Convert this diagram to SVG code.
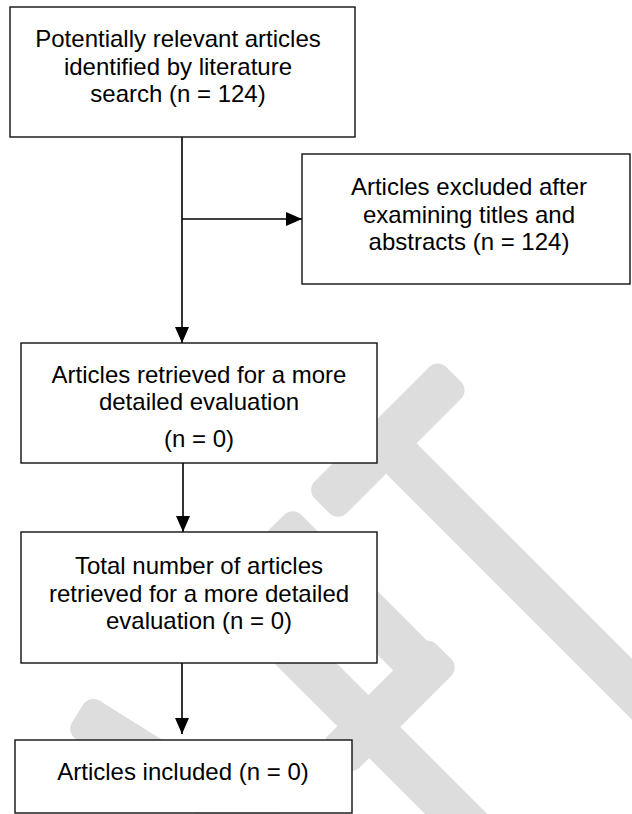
<svg xmlns="http://www.w3.org/2000/svg" width="632" height="814" viewBox="0 0 632 814">
  <defs>
    <style>
      .box { fill: #ffffff; stroke: #111111; stroke-width: 1.4; }
      .lbl { font-family: "Liberation Sans", Arial, sans-serif; font-size: 24px; fill: #000000; text-anchor: middle; }
      .conn { fill: none; stroke: #000000; stroke-width: 1.6; }
      .wm { fill: #dddddd; }
    </style>
    <marker id="arrow" markerUnits="userSpaceOnUse" viewBox="0 0 16 14" markerWidth="16" markerHeight="14" refX="16" refY="7" orient="auto">
      <path d="M0,0 L16,7 L0,14 Z" fill="#000000"/>
    </marker>
  </defs>
  <rect width="632" height="814" fill="#ffffff"/>

  <g id="watermark">
    <g transform="rotate(-45)">
      <rect class="wm" x="-130" y="563" width="186" height="45" rx="12"/>
      <rect class="wm" x="-62" y="585" width="43" height="520"/>
      <rect class="wm" x="-196" y="565" width="45" height="225" rx="12"/>
      <rect class="wm" x="-300" y="752" width="153" height="45" rx="12"/>
      <rect class="wm" x="-275" y="600" width="44" height="520"/>
    </g>
    <rect class="wm" transform="translate(77.6,713.5) rotate(32)" x="0" y="-22.5" width="320" height="45" rx="12"/>
  </g>

  <g id="connectors">
    <path class="conn" d="M182,137 V343" marker-end="url(#arrow)"/>
    <path class="conn" d="M182,219 H302" marker-end="url(#arrow)"/>
    <path class="conn" d="M183,463 V532" marker-end="url(#arrow)"/>
    <path class="conn" d="M182,663 V734" marker-end="url(#arrow)"/>
  </g>

  <g id="n1">
    <rect class="box" x="10" y="7" width="345" height="130"/>
    <text class="lbl" x="178" y="47">Potentially relevant articles</text>
    <text class="lbl" x="178" y="74.5">identified by literature</text>
    <text class="lbl" x="178" y="102">search (n = 124)</text>
  </g>

  <g id="n2">
    <rect class="box" x="302" y="154" width="328" height="130"/>
    <text class="lbl" x="469" y="195">Articles excluded after</text>
    <text class="lbl" x="469" y="222.5">examining titles and</text>
    <text class="lbl" x="469" y="250">abstracts (n = 124)</text>
  </g>

  <g id="n3">
    <rect class="box" x="21" y="343" width="356" height="120"/>
    <text class="lbl" x="199" y="383">Articles retrieved for a more</text>
    <text class="lbl" x="199" y="410">detailed evaluation</text>
    <text class="lbl" x="199" y="447">(n = 0)</text>
  </g>

  <g id="n4">
    <rect class="box" x="21" y="532" width="356" height="131"/>
    <text class="lbl" x="199" y="574">Total number of articles</text>
    <text class="lbl" x="199" y="601.5">retrieved for a more detailed</text>
    <text class="lbl" x="199" y="629">evaluation (n = 0)</text>
  </g>

  <g id="n5">
    <rect class="box" x="15" y="740" width="337" height="73"/>
    <text class="lbl" x="183" y="780">Articles included (n = 0)</text>
  </g>
</svg>
